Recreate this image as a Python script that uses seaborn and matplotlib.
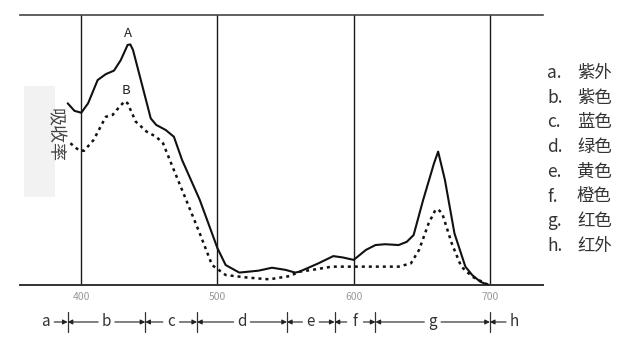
import numpy as np
import pandas as pd
import matplotlib
matplotlib.use("Agg")
import matplotlib.pyplot as plt
from matplotlib.patches import Rectangle
import seaborn as sns

# ---- data ----
wl_a = [390, 395, 400, 405, 412, 418, 424, 429, 434, 436, 438, 445, 451, 455, 462, 468, 474,
        487, 500, 506, 516, 530, 540, 550, 557, 560, 574, 585, 592, 600, 609, 616, 623, 633,
        639, 644, 651, 659, 662, 667, 674, 682, 687, 693, 699]
ab_a = [0.673, 0.645, 0.638, 0.673, 0.759, 0.781, 0.794, 0.833, 0.889, 0.891, 0.870, 0.734,
        0.617, 0.593, 0.574, 0.549, 0.463, 0.315, 0.136, 0.074, 0.046, 0.053, 0.064, 0.056,
        0.046, 0.049, 0.080, 0.107, 0.102, 0.093, 0.130, 0.148, 0.151, 0.148, 0.160, 0.185,
        0.315, 0.451, 0.494, 0.389, 0.191, 0.068, 0.037, 0.012, 0.0]

wl_b = [392, 398, 402, 409, 418, 423, 428, 432, 434, 440, 448, 455, 460, 467, 477, 487, 496,
        506, 521, 538, 553, 560, 572, 584, 609, 633, 642, 648, 655, 660, 662, 665, 672, 679,
        687, 699]
ab_b = [0.525, 0.500, 0.497, 0.537, 0.623, 0.630, 0.660, 0.681, 0.673, 0.605, 0.568, 0.549,
        0.525, 0.438, 0.315, 0.191, 0.074, 0.037, 0.028, 0.021, 0.033, 0.049, 0.058, 0.068,
        0.068, 0.068, 0.080, 0.130, 0.228, 0.278, 0.280, 0.265, 0.154, 0.068, 0.031, 0.0]

x_ticks = [400, 500, 600, 700]
band_bounds = [390, 447, 485, 551, 586, 616, 700]
band_letters = ["a", "b", "c", "d", "e", "f", "g", "h"]
band_names = ["紫外", "紫色", "蓝色", "绿色", "黄色", "橙色", "红色", "红外"]
curve_labels = ["A", "B"]
y_label = "吸收率"

df = pd.concat([
    pd.DataFrame({"wl": wl_a, "ab": ab_a, "curve": "A"}),
    pd.DataFrame({"wl": wl_b, "ab": ab_b, "curve": "B"}),
])

# ---- style ----
sns.set_theme(style="white")
plt.rcParams["font.family"] = ["Noto Sans CJK SC", "DejaVu Sans"]

fig = plt.figure(figsize=(6.31, 3.42), dpi=100)
ax = fig.add_axes([20 / 631, 57 / 342, 523 / 631, 270 / 342])

for xv in x_ticks:
    ax.axvline(xv, color="#1a1a1a", lw=1.0, zorder=1)

sns.lineplot(data=df[df.curve == "A"], x="wl", y="ab", ax=ax, color="#111111",
             lw=1.5, sort=False, zorder=3)
sns.lineplot(data=df[df.curve == "B"], x="wl", y="ab", ax=ax, color="#111111",
             lw=1.8, sort=False, zorder=3, linestyle=(0, (1.2, 1.6)))

ax.set_xlim(355, 739)
ax.set_ylim(0, 1)
ax.set_xticks(x_ticks)
ax.set_xticklabels([str(t) for t in x_ticks], color="#999999", fontsize=7.5)
ax.set_yticks([])
ax.set_xlabel("")
ax.set_ylabel("")
ax.tick_params(axis="x", length=0, pad=5)
for s in ["left", "right"]:
    ax.spines[s].set_visible(False)
ax.spines["top"].set_color("#444444")
ax.spines["top"].set_linewidth(1.2)
ax.spines["bottom"].set_color("#333333")
ax.spines["bottom"].set_linewidth(1.4)

# curve labels
ax.text(434, 0.933, curve_labels[0], ha="center", va="center", fontsize=9.5, color="#222222")
ax.text(432.5, 0.719, curve_labels[1], ha="center", va="center", fontsize=9.5, color="#222222")

# band annotation row
yb = -0.137
trans = ax.get_xaxis_transform()
centers = [band_bounds[0] - 16]
centers += [(band_bounds[i] + band_bounds[i + 1]) / 2 for i in range(len(band_bounds) - 1)]
centers += [band_bounds[-1] + 18]
aprops = dict(arrowstyle="-|>", color="#222222", lw=0.8, mutation_scale=7,
              shrinkA=6, shrinkB=0)
for i, (cx, let) in enumerate(zip(centers, band_letters)):
    ax.text(cx, yb, let, transform=trans, ha="center", va="center",
            fontsize=11, color="#333333", clip_on=False, fontweight="light")
    if i > 0:
        ax.annotate("", xy=(band_bounds[i - 1], yb), xytext=(cx, yb),
                    xycoords=trans, textcoords=trans, arrowprops=aprops,
                    annotation_clip=False)
    if i < len(band_bounds):
        ax.annotate("", xy=(band_bounds[i], yb), xytext=(cx, yb),
                    xycoords=trans, textcoords=trans, arrowprops=aprops,
                    annotation_clip=False)
for b in band_bounds:
    ax.plot([b, b], [yb - 0.037, yb + 0.037], transform=trans, color="#333333",
            lw=0.9, clip_on=False)

# y label with light box
fig.patches.append(Rectangle((24 / 631, (342 - 197) / 342), 31 / 631, 111 / 342,
                             transform=fig.transFigure, facecolor="#f2f2f2",
                             edgecolor="none", zorder=0))
fig.text(54 / 631, 1 - 135 / 342, y_label, rotation=-90, ha="center", va="center",
         fontsize=13, color="#444444", fontweight="light")

# legend list on right
y0 = 73
for i, (let, name) in enumerate(zip(band_letters, band_names)):
    yy = 1 - (y0 + i * 24.7) / 342
    fig.text(547 / 631, yy, let + ".", ha="left", va="center", fontsize=12.5,
             color="#333333", fontweight="light")
    fig.text(577 / 631, yy, name, ha="left", va="center", fontsize=12.5,
             color="#333333", fontweight="light")

fig.savefig("out.png", dpi=100, facecolor="white")
